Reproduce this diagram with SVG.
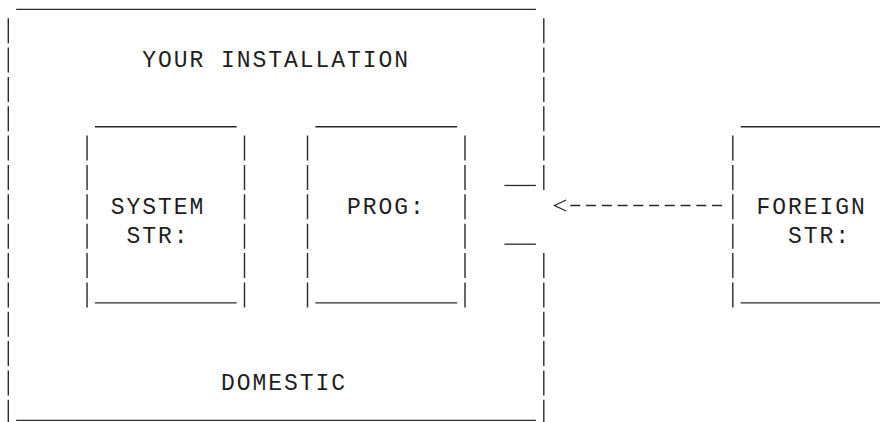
<svg xmlns="http://www.w3.org/2000/svg" width="880" height="422" viewBox="0 0 880 422">
  <defs>
    <style>
      .edge { stroke: #2a2a2a; stroke-width: 1.3; fill: none; }
      .pipe { stroke: #2a2a2a; stroke-width: 1.4; fill: none; stroke-dasharray: 25 4.36; }
      .lbl { font-family: "Liberation Mono", "DejaVu Sans Mono", monospace; font-size: 23px; letter-spacing: 1.95px; fill: #1e1e1e; }
      .conn { stroke: #2a2a2a; stroke-width: 1.3; fill: none; stroke-dasharray: 10 5.75; }
    </style>
    <marker id="chevron" markerUnits="userSpaceOnUse" markerWidth="40" markerHeight="16" viewBox="-20 -8 40 16" refX="0" refY="0" orient="auto" overflow="visible">
      <path d="M 2.9 -5.5 L 14.5 0 L 2.9 5.5" fill="none" stroke="#2a2a2a" stroke-width="1.3"/>
    </marker>
  </defs>
  <rect width="880" height="422" fill="#ffffff"/>

  <g id="installation">
    <line class="edge" x1="16.15" y1="9.3" x2="535.9" y2="9.3"/>
    <line class="edge" x1="16.15" y1="420.34" x2="535.9" y2="420.34"/>
    <line class="pipe" x1="8.3" y1="18.16" x2="8.3" y2="424.84"/>
    <line class="pipe" x1="543.8" y1="18.16" x2="543.8" y2="189.96"/>
    <line class="pipe" x1="543.8" y1="253.04" x2="543.8" y2="424.84"/>
    <text class="lbl" x="142.15" y="67">YOUR INSTALLATION</text>
    <text class="lbl" x="220.9" y="390">DOMESTIC</text>
  </g>

  <g id="port">
    <line class="edge" x1="504.4" y1="185.46" x2="535.9" y2="185.46"/>
    <line class="edge" x1="504.4" y1="244.18" x2="535.9" y2="244.18"/>
  </g>

  <g id="system-str">
    <line class="edge" x1="94.9" y1="126.74" x2="236.65" y2="126.74"/>
    <line class="edge" x1="94.9" y1="302.9" x2="236.65" y2="302.9"/>
    <line class="pipe" x1="87.05" y1="135.6" x2="87.05" y2="307.4"/>
    <line class="pipe" x1="244.5" y1="135.6" x2="244.5" y2="307.4"/>
    <text class="lbl" x="110.65" y="213.8">SYSTEM</text>
    <text class="lbl" x="126.4" y="243.2">STR:</text>
  </g>

  <g id="prog">
    <line class="edge" x1="315.4" y1="126.74" x2="457.15" y2="126.74"/>
    <line class="edge" x1="315.4" y1="302.9" x2="457.15" y2="302.9"/>
    <line class="pipe" x1="307.5" y1="135.6" x2="307.5" y2="307.4"/>
    <line class="pipe" x1="465.0" y1="135.6" x2="465.0" y2="307.4"/>
    <text class="lbl" x="346.9" y="213.8">PROG:</text>
  </g>

  <g id="foreign-str">
    <line class="edge" x1="740.65" y1="126.74" x2="882.4" y2="126.74"/>
    <line class="edge" x1="740.65" y1="302.9" x2="882.4" y2="302.9"/>
    <line class="pipe" x1="732.8" y1="135.6" x2="732.8" y2="307.4"/>
    <text class="lbl" x="756.4" y="213.8">FOREIGN</text>
    <text class="lbl" x="787.9" y="243.2">STR:</text>
  </g>

  <g id="connectors">
    <path class="conn" d="M 722.05 205.5 L 569 205.5" marker-end="url(#chevron)"/>
  </g>
</svg>
